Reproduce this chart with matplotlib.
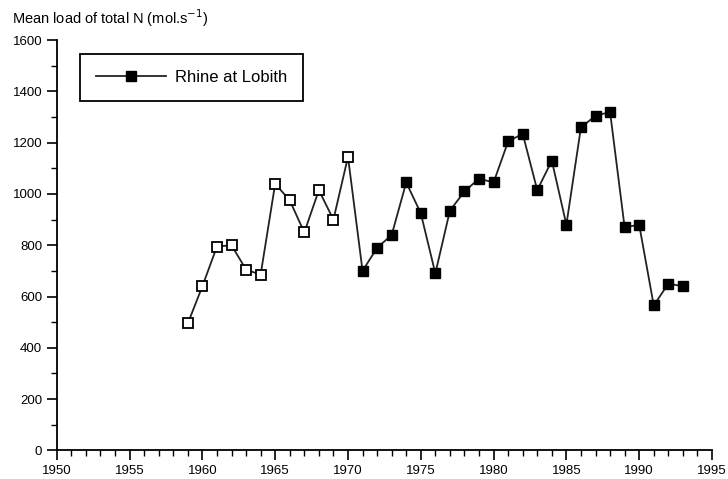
import matplotlib
matplotlib.use('Agg')
import matplotlib.pyplot as plt
from matplotlib.lines import Line2D
from matplotlib.ticker import MultipleLocator

plt.rcParams['font.family'] = ['Liberation Sans', 'DejaVu Sans']

# yearly mean load of total N, Rhine at Lobith
years = list(range(1959, 1994))
load = [495, 640, 795, 800, 705, 685, 1040, 975, 850, 1015, 900, 1145,
        700, 790, 840, 1045, 925, 690, 935, 1010, 1060, 1045, 1205, 1235,
        1015, 1130, 880, 1260, 1305, 1320, 870, 880, 565, 650, 640]
split_year = 1970  # open symbols up to and including this year

open_x = [y for y in years if y <= split_year]
open_y = [v for y, v in zip(years, load) if y <= split_year]
fill_x = [y for y in years if y > split_year]
fill_y = [v for y, v in zip(years, load) if y > split_year]

fig = plt.figure(figsize=(7.28, 4.79), dpi=100)
ax = fig.add_axes([0.078, 0.06, 0.9, 0.856])

ax.plot(years, load, color='#222222', lw=1.3, zorder=1)
ax.plot(open_x, open_y, ls='none', marker='s', ms=7.5, mfc='white',
        mec='black', mew=1.3, zorder=2)
ax.plot(fill_x, fill_y, ls='none', marker='s', ms=7.5, mfc='black',
        mec='black', zorder=2)

ax.set_xlim(1950, 1995)
ax.set_ylim(0, 1600)
ax.xaxis.set_major_locator(MultipleLocator(5))
ax.xaxis.set_minor_locator(MultipleLocator(1))
ax.yaxis.set_major_locator(MultipleLocator(200))
ax.yaxis.set_minor_locator(MultipleLocator(100))
ax.spines['top'].set_visible(False)
ax.spines['right'].set_visible(False)
for s in ('left', 'bottom'):
    ax.spines[s].set_linewidth(1.3)
ax.tick_params(which='major', direction='out', length=7, width=1.2,
               labelsize=9.5, colors='black')
ax.tick_params(which='minor', direction='out', length=4, width=1.0)

handle = Line2D([], [], color='#222222', lw=1.3, marker='s', ms=7.5,
                mfc='black', mec='black')
leg = ax.legend([handle], ['Rhine at Lobith'], loc='upper left',
                bbox_to_anchor=(0.036, 0.966), fancybox=False,
                edgecolor='black', fontsize=12, handlelength=4.2,
                borderpad=0.95, borderaxespad=0, framealpha=1,
                handletextpad=0.5)
leg.get_frame().set_linewidth(1.3)

fig.text(0.016, 0.962, 'Mean load of total N (mol.s$^{-1}$)', fontsize=10.5,
         va='center', ha='left')

fig.savefig('out.png', dpi=100)
